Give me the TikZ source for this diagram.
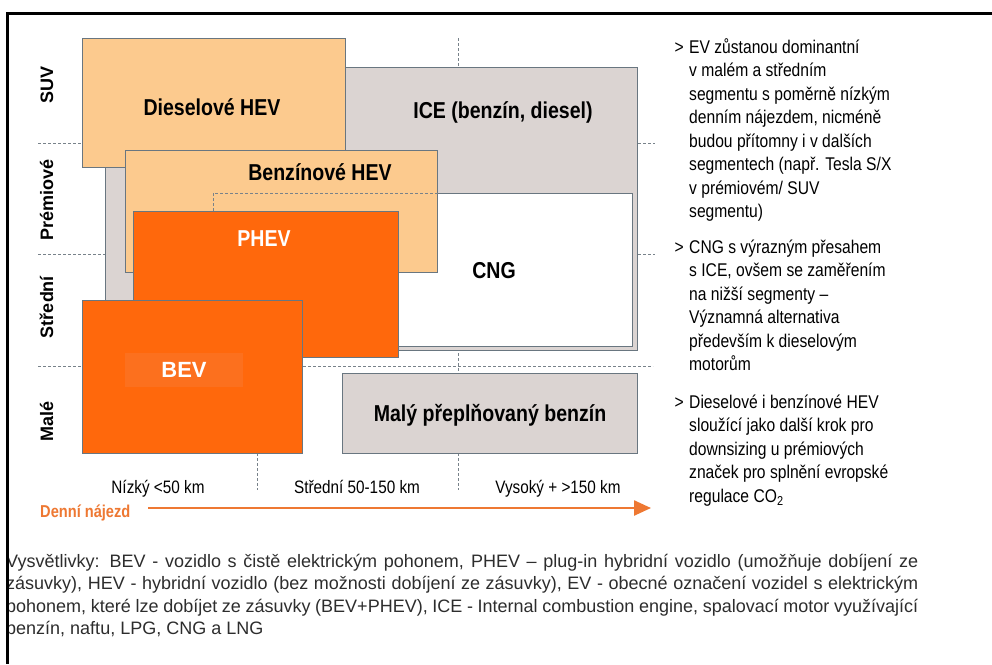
\documentclass[tikz,border=0pt]{standalone}
\usepackage{fontspec}
\setmainfont{Liberation Sans}
\newfontfamily\narrowfont{Liberation Sans}[FakeStretch=0.85]
\usetikzlibrary{arrows.meta}

\definecolor{hevfill}{RGB}{252,202,142}
\definecolor{icegray}{RGB}{219,212,210}
\definecolor{phevor}{RGB}{255,104,12}
\definecolor{bevglow}{RGB}{252,112,30}
\definecolor{edge}{RGB}{105,118,128}
\definecolor{gridgray}{RGB}{120,130,138}
\definecolor{arrowor}{RGB}{238,120,50}
\definecolor{capgray}{RGB}{45,45,45}

\begin{document}
\begin{tikzpicture}[x=1pt,y=-1pt,
    box/.style={draw=edge, line width=1pt, inner sep=0pt, anchor=north west},
    boxlabel/.style={font=\narrowfont\bfseries\fontsize{23}{27}\selectfont, anchor=base},
    axislabel/.style={font=\bfseries\fontsize{18}{22}\selectfont, rotate=90, anchor=base},
    xlabel/.style={font=\narrowfont\fontsize{18}{22}\selectfont, anchor=base},
    note/.style={font=\narrowfont\fontsize{18.4}{23.5}\selectfont, align=left, anchor=north west, inner sep=0pt},
    legendline/.style={font=\fontsize{18}{22}\selectfont, text=capgray, anchor=base west, inner sep=0pt},
    gridline/.style={draw=gridgray, line width=0.9pt, dash pattern=on 3pt off 2pt},
    hidden/.style={draw=gridgray, line width=0.9pt, dash pattern=on 3pt off 2pt}
]
\fill[white] (0,0) rectangle (992,664);
\useasboundingbox (0,0) rectangle (992,664);

% grid
\draw[gridline] (38,143) -- (655,143);
\draw[gridline] (38,254) -- (655,254);
\draw[gridline] (38,366) -- (653,366);
\draw[gridline] (257,38) -- (257,490);
\draw[gridline] (458,38) -- (458,490);

% segments
\node[box, fill=icegray, minimum width=532, minimum height=283] (ice) at (105,67) {};
\node[box, fill=white, minimum width=419, minimum height=153] (cng) at (213,193) {};
\node[box, fill=hevfill, minimum width=263, minimum height=129] (diesel) at (82,38) {};
\node[box, fill=hevfill, minimum width=312, minimum height=122] (benz) at (125,150) {};
\draw[hidden] (cng.north west |- 0,211) -- (cng.north west) -- (cng.north west -| benz.east);
\node[box, fill=phevor, minimum width=265, minimum height=146] (phev) at (133,211) {};
\node[box, fill=phevor, minimum width=220, minimum height=153] (bev) at (82,300) {};
\node[box, fill=icegray, minimum width=295, minimum height=80] (maly) at (342,373) {};

\node[boxlabel] (ldiesel) at (212,115) {Dieselové HEV};
\node[boxlabel] (lice) at (503,118) {ICE (benzín, diesel)};
\node[boxlabel] (lbenz) at (320,180) {Benzínové HEV};
\node[boxlabel, text=white] (lphev) at (264,246) {PHEV};
\node[boxlabel] (lcng) at (494,278) {CNG};
\node[fill=bevglow, minimum width=118, minimum height=34, inner sep=0pt,
      text=white, font=\bfseries\fontsize{22}{26}\selectfont] (lbev) at (184,370) {BEV};
\node[boxlabel] (lmaly) at (490,421) {Malý přeplňovaný benzín};

% axes
\node[axislabel] (suv) at (53,85) {SUV};
\node[axislabel] (prem) at (53,200) {Prémiové};
\node[axislabel] (stred) at (53,307) {Střední};
\node[axislabel] (male) at (53,421) {Malé};

\node[xlabel] (low) at (158,493) {Nízký <50 km};
\node[xlabel] (mid) at (357,493) {Střední 50-150 km};
\node[xlabel] (high) at (558,493) {Vysoký + >150 km};

\node[font=\narrowfont\bfseries\fontsize{17.2}{21}\selectfont, text=arrowor,
      anchor=base west, inner sep=0pt] (dn) at (40,517) {Denní nájezd};
\coordinate (a0) at (148,508);
\coordinate (a1) at (651,508);
\draw[arrowor, line width=2.4pt, -{Triangle[length=17pt,width=15pt]}] (a0) -- (a1);

% comments on the right
\node[note] (t1) at (689,36.5) {\strut EV zůstanou dominantní\\v malém a středním\\segmentu s poměrně nízkým\\denním nájezdem, nicméně\\budou přítomny i v dalších\\segmentech (např. Tesla S/X\\v prémiovém/ SUV\\segmentu)};
\node[note, anchor=north east] (g1) at ([xshift=-5pt]t1.north west) {\strut>};
\node[note] (t2) at (689,236.5) {\strut CNG s výrazným přesahem\\s ICE, ovšem se zaměřením\\na nižší segmenty –\\Významná alternativa\\především k dieselovým\\motorům};
\node[note, anchor=north east] (g2) at ([xshift=-5pt]t2.north west) {\strut>};
\node[note] (t3) at (689,391.5) {\strut Dieselové i benzínové HEV\\sloužící jako další krok pro\\downsizing u prémiových\\značek pro splnění evropské\\regulace CO\textsubscript{2}};
\node[note, anchor=north east] (g3) at ([xshift=-5pt]t3.north west) {\strut>};

% legend
\node[legendline] (c1) at (6,567) {\makebox[912pt][s]{Vysvětlivky: BEV - vozidlo s čistě elektrickým pohonem, PHEV – plug-in hybridní vozidlo (umožňuje dobíjení ze}};
\node[legendline] (c2) at (6,589) {\makebox[912pt][s]{zásuvky), HEV - hybridní vozidlo (bez možnosti dobíjení ze zásuvky), EV - obecné označení vozidel s elektrickým}};
\node[legendline] (c3) at (6,612) {\makebox[912pt][s]{pohonem, které lze dobíjet ze zásuvky (BEV+PHEV), ICE - Internal combustion engine, spalovací motor využívající}};
\node[legendline] (c4) at (6,634) {benzín, naftu, LPG, CNG a LNG};

% frame
\draw[line width=3pt] (992,13) -- (7,13) -- (7,664);
\end{tikzpicture}
\end{document}
